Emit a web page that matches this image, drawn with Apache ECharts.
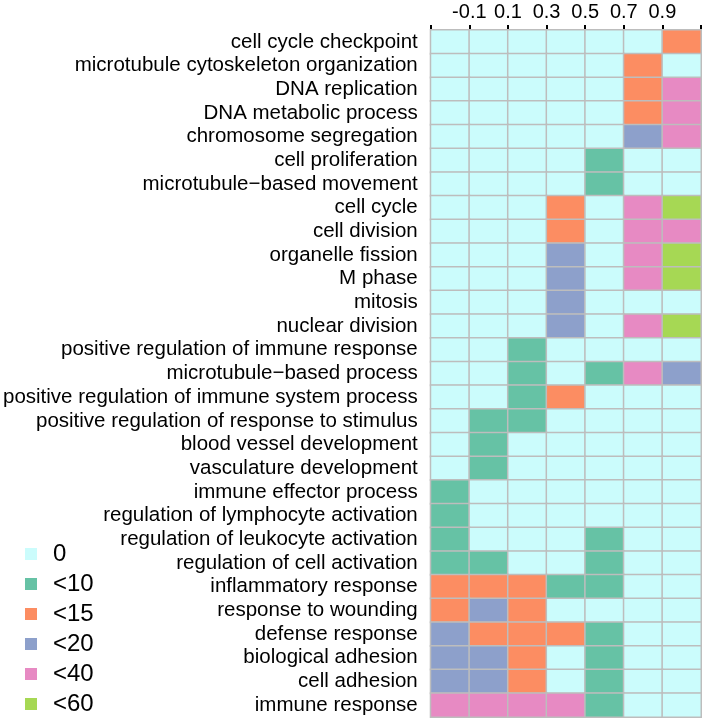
<!DOCTYPE html>
<html><head><meta charset="utf-8">
<script src="https://cdn.jsdelivr.net/npm/echarts@6/dist/echarts.min.js"></script>
<style>html,body{margin:0;padding:0;background:#fff}#c{width:706px;height:719px}</style>
</head><body><div id="c"></div>
<script>
const terms = [
  "cell cycle checkpoint",
  "microtubule cytoskeleton organization",
  "DNA replication",
  "DNA metabolic process",
  "chromosome segregation",
  "cell proliferation",
  "microtubule\u2212based movement",
  "cell cycle",
  "cell division",
  "organelle fission",
  "M phase",
  "mitosis",
  "nuclear division",
  "positive regulation of immune response",
  "microtubule\u2212based process",
  "positive regulation of immune system process",
  "positive regulation of response to stimulus",
  "blood vessel development",
  "vasculature development",
  "immune effector process",
  "regulation of lymphocyte activation",
  "regulation of leukocyte activation",
  "regulation of cell activation",
  "inflammatory response",
  "response to wounding",
  "defense response",
  "biological adhesion",
  "cell adhesion",
  "immune response"
];
const columns = ["c1","c2","c3","c4","c5","c6","c7"];
const tickLabels = ["-0.1","0.1","0.3","0.5","0.7","0.9"];
const levelLabels = ["0","<10","<15","<20","<40","<60"];
const levelColors = ["#CBFCFC","#66C2A5","#FC8D62","#8DA0CB","#E78AC3","#A6D854"];
// level index per term (rows) and column
const levels = [
  [0,0,0,0,0,0,2],
  [0,0,0,0,0,2,0],
  [0,0,0,0,0,2,4],
  [0,0,0,0,0,2,4],
  [0,0,0,0,0,3,4],
  [0,0,0,0,1,0,0],
  [0,0,0,0,1,0,0],
  [0,0,0,2,0,4,5],
  [0,0,0,2,0,4,4],
  [0,0,0,3,0,4,5],
  [0,0,0,3,0,4,5],
  [0,0,0,3,0,0,0],
  [0,0,0,3,0,4,5],
  [0,0,1,0,0,0,0],
  [0,0,1,0,1,4,3],
  [0,0,1,2,0,0,0],
  [0,1,1,0,0,0,0],
  [0,1,0,0,0,0,0],
  [0,1,0,0,0,0,0],
  [1,0,0,0,0,0,0],
  [1,0,0,0,0,0,0],
  [1,0,0,0,1,0,0],
  [1,1,0,0,1,0,0],
  [2,2,2,1,1,0,0],
  [2,3,2,0,0,0,0],
  [3,2,2,2,1,0,0],
  [3,3,2,0,1,0,0],
  [3,3,2,0,1,0,0],
  [4,4,4,4,1,0,0]
];

const data = [];
levels.forEach((row, r) => row.forEach((v, c) => data.push([c, r, v])));

const FONT = "'Liberation Sans', Arial, sans-serif";
const chart = echarts.init(document.getElementById('c'));
chart.setOption({
  animation: false,
  grid: { left: 429, right: 5, top: 30, bottom: 2 },
  xAxis: [
    { type: 'category', data: columns, position: 'bottom',
      axisLine: {show: false}, axisTick: {show: false}, axisLabel: {show: false}, splitLine: {show: false} },
    { type: 'value', position: 'top', min: 0, max: 7, interval: 1,
      axisLine: {show: false}, splitLine: {show: false},
      axisTick: {show: true, length: 5, lineStyle: {color: '#000', width: 2}},
      axisLabel: { margin: 8, fontSize: 20, color: '#000', fontFamily: FONT,
        formatter: v => tickLabels[v - 1] || '' } }
  ],
  yAxis: {
    type: 'category', data: terms, inverse: true,
    axisLine: {show: false}, axisTick: {show: false}, splitLine: {show: false},
    axisLabel: { interval: 0, margin: 13, fontSize: 20.5, color: '#000', fontFamily: FONT }
  },
  visualMap: {
    type: 'piecewise', seriesIndex: 0, dimension: 2, inverse: true,
    orient: 'vertical', left: 10, top: 527,
    itemWidth: 12, itemHeight: 12, itemGap: 6, textGap: 16, itemSymbol: 'rect',
    textStyle: { fontSize: 24, color: '#000', fontFamily: FONT },
    selectedMode: false,
    pieces: levelLabels.map((l, i) => ({ value: i, label: l, color: levelColors[i] }))
  },
  series: [{
    type: 'heatmap', data: data, xAxisIndex: 0, yAxisIndex: 0,
    itemStyle: { borderColor: '#BDBDBD', borderWidth: 1.5 },
    emphasis: { disabled: true }, label: { show: false }
  }]
});
</script></body></html>
